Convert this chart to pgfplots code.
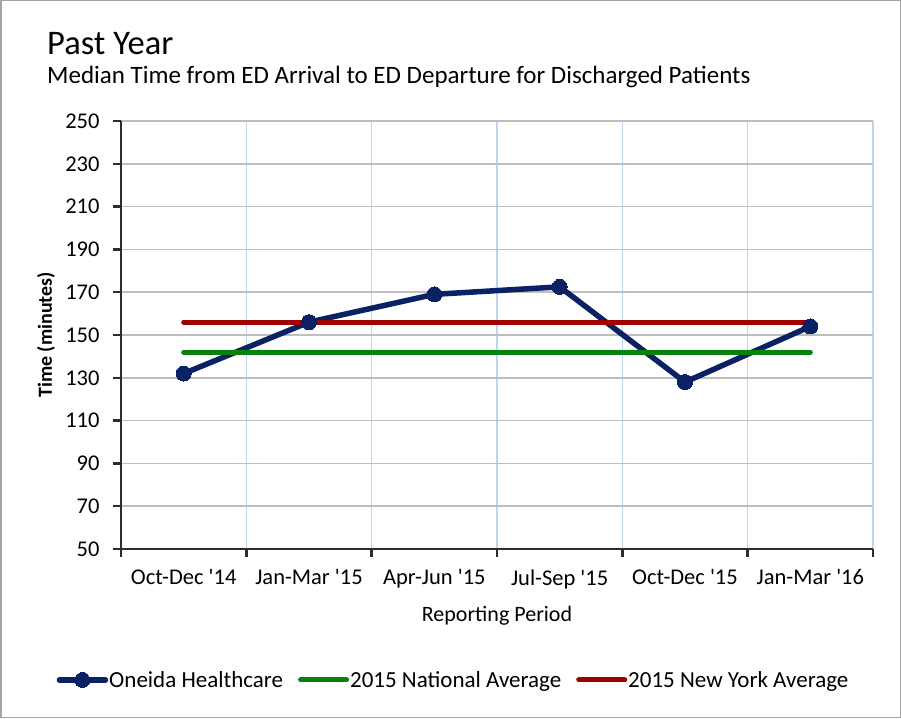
\documentclass[border=0pt]{standalone}
\usepackage{fontspec}
\setmainfont{Carlito}
\usepackage{pgfplots}
\pgfplotsset{compat=1.18}
\definecolor{navy}{RGB}{10,34,100}
\definecolor{natgreen}{RGB}{8,130,12}
\definecolor{nyred}{RGB}{160,0,0}
\definecolor{gridgray}{RGB}{190,190,190}
\definecolor{gridblue}{RGB}{190,212,244}
\definecolor{axisgray}{RGB}{45,45,45}
\definecolor{framegray}{RGB}{165,165,165}
\begin{document}
\begin{tikzpicture}
\useasboundingbox (0pt,0pt) rectangle (901pt,718pt);
\draw[line width=1.5pt, framegray] (0.75pt,0.75pt) rectangle (900.25pt,717.25pt);
\node[anchor=base west, inner sep=0, font=\fontsize{34.5}{40}\selectfont] at (47pt,663pt) {Past Year};
\node[anchor=base west, inner sep=0, font=\fontsize{25}{30}\selectfont] at (47pt,634pt) {Median Time from ED Arrival to ED Departure for Discharged Patients};
\begin{axis}[
  at={(121pt,169pt)}, anchor=south west,
  scale only axis, width=752pt, height=428pt,
  xmin=-0.5, xmax=5.5, ymin=50, ymax=250,
  ytick={50,70,90,110,130,150,170,190,210,230,250},
  xtick={-0.5,0.5,1.5,2.5,3.5,4.5,5.5},
  xticklabels={},
  extra x ticks={0,1,2,3,4,5},
  extra x tick labels={Oct-Dec \textquotesingle14,Jan-Mar \textquotesingle15,Apr-Jun \textquotesingle15,Jul-Sep \textquotesingle15,Oct-Dec \textquotesingle15,Jan-Mar \textquotesingle16},
  extra x tick style={major tick length=0pt, xmajorgrids=false},
  axis x line=bottom, axis y line=left,
  axis line style={-, line width=2.5pt, axisgray},
  tick align=outside,
  major tick length=8pt,
  tick style={line width=2.5pt, axisgray},
  xmajorgrids, ymajorgrids,
  every axis x grid/.style={gridblue, line width=1.2pt},
  every axis y grid/.style={gridgray, line width=1.5pt},
  /pgf/number format/assume math mode=true,
  ticklabel style={font=\fontsize{22.5}{27}\selectfont},
  xticklabel style={yshift=-17pt},
  yticklabel style={xshift=-10pt},
  xlabel={Reporting Period},
  xlabel style={font=\fontsize{22}{26}\selectfont, at={(axis description cs:0.5,0)}, anchor=base, yshift=-72pt},
  ylabel={Time (minutes)},
  ylabel style={font=\fontsize{20}{24}\selectfont\bfseries, at={(axis description cs:-0.0997,0.5)}, anchor=center},
  legend style={at={(0.4415,-0.306)}, anchor=center, draw=none, legend columns=3,
    font=\fontsize{23}{27}\selectfont, inner sep=0pt,
    nodes={inner xsep=1pt},
    /tikz/every even column/.append style={column sep=14pt}},
  legend cell align=left,
  legend image code/.code={\draw[mark repeat=2,mark phase=2,#1] plot coordinates {(0pt,0pt) (23pt,0pt) (46pt,0pt)};},
]
\addplot[navy, line width=5.5pt, line cap=round, line join=round, mark=*, mark size=7.5pt, mark options={fill=navy, draw=navy, line width=0pt}]
  coordinates {(0,132)(1,156)(2,169)(3,172.5)(4,128)(5,154)};
\addlegendentry{Oneida Healthcare}
\addplot[natgreen, line width=5pt, line cap=round] coordinates {(0,142)(5,142)};
\addlegendentry{2015 National Average}
\addplot[nyred, line width=5pt, line cap=round] coordinates {(0,156)(5,156)};
\addlegendentry{2015 New York Average}
\end{axis}
\end{tikzpicture}
\end{document}
